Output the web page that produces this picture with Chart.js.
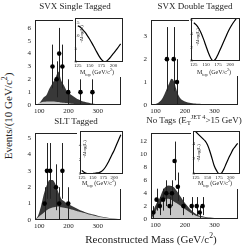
<!DOCTYPE html>
<html>
<head>
<meta charset="utf-8">
<script src="https://cdn.jsdelivr.net/npm/chart.js@4.4.1/dist/chart.umd.min.js"></script>
<style>
  html, body { margin: 0; padding: 0; background: #fff; }
  #page { position: relative; width: 248px; height: 250px; overflow: hidden; font-family: "Liberation Serif", "DejaVu Serif", serif; color: #222; }
  canvas { position: absolute; }
  .lbl { position: absolute; white-space: nowrap; line-height: 1; transform: translate(-50%, -50%); z-index: 5; }
  .rot { transform: translate(-50%, -50%) rotate(-90deg); }
  sub, sup { font-size: 70%; line-height: 0; }
</style>
</head>
<body>
<div id="page"></div>
<script>
// reconstructed mass grid (GeV/c^2) used by all four histograms
const MASS = [85, 95, 105, 115, 125, 135, 145, 155, 160, 165, 170, 175, 185, 195, 205, 215, 225, 235, 245, 255, 265, 275, 285, 300, 320, 340, 360, 380];

// SVX single tagged
const svx1Total = [0, 0.05, 0.3, 0.6, 0.8, 1.3, 1.7, 2.1, 2.4, 2.6, 2.3, 1.9, 1.5, 1.05, 0.85, 0.7, 0.55, 0.42, 0.32, 0.25, 0.19, 0.14, 0.1, 0.06, 0.04, 0.02, 0.01, 0];
const svx1Bkg = [0, 0.1, 0.2, 0.25, 0.28, 0.28, 0.27, 0.25, 0.24, 0.23, 0.22, 0.2, 0.18, 0.15, 0.12, 0.1, 0.08, 0.06, 0.05, 0.04, 0.03, 0.02, 0.02, 0.01, 0.01, 0, 0, 0];
const svx1X = [145, 159, 168, 179, 199, 241, 282];
const svx1Y = [3, 2, 4, 3, 1, 1, 1];
const svx1Err = [1.7, 1.4, 2, 1.7, 1, 1, 1];

// SVX double tagged
const svx2Total = [0, 0.02, 0.06, 0.15, 0.32, 0.6, 0.9, 1.15, 1.1, 0.95, 0.72, 0.52, 0.28, 0.18, 0.13, 0.1, 0.08, 0.06, 0.05, 0.04, 0.03, 0.025, 0.02, 0.015, 0.01, 0.005, 0, 0];
const svx2Bkg = [0, 0.01, 0.02, 0.03, 0.04, 0.04, 0.04, 0.04, 0.04, 0.04, 0.035, 0.035, 0.03, 0.03, 0.025, 0.02, 0.02, 0.015, 0.015, 0.01, 0.01, 0.01, 0.005, 0.005, 0, 0, 0, 0];
const svx2X = [139, 162, 173];
const svx2Y = [2, 2, 1];
const svx2Err = [1.4, 1.4, 1];

// SLT tagged
const sltTotal = [0, 0.25, 0.8, 1.55, 2.1, 2.45, 2.45, 2.2, 1.95, 1.7, 1.5, 1.3, 1.15, 1.0, 0.92, 0.82, 0.73, 0.64, 0.56, 0.49, 0.43, 0.38, 0.33, 0.26, 0.18, 0.12, 0.07, 0.03];
const sltBkg = [0, 0.15, 0.3, 0.45, 0.6, 0.7, 0.76, 0.8, 0.82, 0.82, 0.8, 0.78, 0.75, 0.72, 0.67, 0.62, 0.57, 0.52, 0.47, 0.42, 0.37, 0.32, 0.28, 0.22, 0.16, 0.11, 0.07, 0.03];
const sltX = [118, 126, 137, 157, 168, 179, 199];
const sltY = [1, 3, 3, 2, 1, 3, 1];
const sltErr = [1, 1.7, 1.7, 1.4, 1, 1.7, 1];

// no tags
const noTagTotal = [0, 1.5, 2.5, 3.3, 4.4, 5.0, 5.2, 5.1, 5.0, 4.8, 4.5, 4.2, 3.5, 2.8, 2.2, 1.65, 1.2, 0.85, 0.6, 0.45, 0.35, 0.28, 0.22, 0.16, 0.1, 0.06, 0.03, 0.01];
const noTagBkg = [0, 0.7, 1.6, 2.3, 2.85, 3.1, 3.15, 2.95, 2.8, 2.65, 2.5, 2.35, 2.05, 1.7, 1.4, 1.1, 0.8, 0.55, 0.4, 0.3, 0.24, 0.19, 0.15, 0.11, 0.07, 0.04, 0.02, 0.01];
const noTagX = [93, 104, 115, 126, 137, 148, 156, 165, 176, 195, 223, 240, 250, 260];
const noTagY = [1, 3, 2, 3, 4, 2, 4, 9, 5, 2, 2, 2, 1, 2];
const noTagErr = [1, 1.7, 1.4, 1.7, 2, 1.4, 2, 3, 2.2, 1.4, 1.4, 1.4, 1, 1.4];

// likelihood insets: -dlog(L) vs M_top
const MTOP = [125, 130, 135, 140, 145, 150, 155, 160, 165, 170, 175, 180, 185, 190, 195, 200, 205, 210, 215];
const svx1Like = [14, 13.5, 12.6, 11.5, 10.2, 8.8, 7.2, 5.5, 3.8, 2.2, 0.9, 0.2, 0.3, 1.1, 2.2, 3.3, 4.5, 5.7, 7.0];
const svx2Like = [5.6, 5.3, 4.8, 4.1, 3.2, 2.2, 1.2, 0.4, 0, 0.3, 1.0, 1.8, 2.6, 3.4, 4.2, 4.9, 5.5, 6.0, 6.4];
const sltLike = [0.5, 0.25, 0.1, 0.02, 0, 0.05, 0.1, 0.15, 0.2, 0.35, 0.6, 1.0, 1.5, 2.1, 2.7, 3.3, 4.0, 4.7, 5.4];
const noTagLike = [5.5, 5.2, 4.9, 4.6, 4.3, 3.8, 3.0, 2.0, 1.0, 0.4, 0.05, 0.1, 0.6, 1.3, 2.0, 2.6, 3.2, 3.6, 4.0];

// tick labels
const X_TICKS = [100, 200, 300];
const INSET_X_TICKS = [125, 150, 175, 200];
const svx1YTicks = [0, 1, 2, 3, 4, 5, 6];
const svx2YTicks = [0, 1, 2, 3];
const sltYTicks = [0, 1, 2, 3, 4, 5];
const noTagYTicks = [0, 2, 4, 6, 8, 10, 12];
const svx1LikeTicks = [0, 5, 10, 15];
const svx2LikeTicks = [0, 2, 4, 6];
const sltLikeTicks = [0, 2, 4];
const noTagLikeTicks = [0, 2, 4];

const FONT = "Liberation Serif";
const page = document.getElementById("page");

const errorBars = {
  id: "errorBars",
  beforeDatasetDraw(chart, args) {
    const ds = chart.data.datasets[args.index];
    if (!ds.errors) return;
    const { ctx, scales } = chart;
    ctx.save();
    ctx.strokeStyle = "#222";
    ctx.lineWidth = 1;
    ds.data.forEach((p, i) => {
      const x = Math.round(scales.x.getPixelForValue(p.x)) + 0.5;
      ctx.beginPath();
      ctx.moveTo(x, scales.y.getPixelForValue(Math.max(0, p.y - ds.errors[i])));
      ctx.lineTo(x, scales.y.getPixelForValue(p.y + ds.errors[i]));
      ctx.stroke();
    });
    ctx.restore();
  },
};

const frame = {
  id: "frame",
  beforeDraw(chart, args, opts) {
    if (opts.white) {
      chart.ctx.fillStyle = "#fff";
      chart.ctx.fillRect(0, 0, chart.width, chart.height);
    }
  },
  afterDraw(chart) {
    const a = chart.chartArea;
    const ctx = chart.ctx;
    ctx.save();
    ctx.strokeStyle = "#222";
    ctx.lineWidth = 1;
    ctx.strokeRect(Math.round(a.left) + 0.5, Math.round(a.top) + 0.5, Math.round(a.right - a.left) - 1, Math.round(a.bottom - a.top) - 1);
    ctx.restore();
  },
};

function addCanvas(left, top, w, h, z) {
  const c = document.createElement("canvas");
  c.width = w;
  c.height = h;
  c.style.left = left + "px";
  c.style.top = top + "px";
  c.style.width = w + "px";
  c.style.height = h + "px";
  c.style.zIndex = z;
  page.appendChild(c);
  return c;
}

function addLabel(html, cx, cy, size, rotate) {
  const d = document.createElement("div");
  d.className = "lbl" + (rotate ? " rot" : "");
  d.style.left = cx + "px";
  d.style.top = cy + "px";
  d.style.fontSize = size + "px";
  d.innerHTML = html;
  page.appendChild(d);
}

function fixedTicks(values) {
  return (axis) => { axis.ticks = values.map((v) => ({ value: v })); };
}

const noGrid = { display: false, drawTicks: false };

// box = chart area in page pixels
function mainPanel(box, yMax, yTicks, total, bkg, px, py, err) {
  const padTop = 5, yW = 20, xH = 12, padRight = 2;
  const w = box.r - box.l + yW + padRight;
  const h = box.b - box.t + padTop + xH;
  const c = addCanvas(box.l - yW, box.t - padTop, w, h, 1);
  new Chart(c, {
    type: "line",
    data: {
      datasets: [
        {
          data: MASS.map((m, i) => ({ x: m, y: bkg[i] })),
          fill: "origin", backgroundColor: "#c8c8c8", borderWidth: 0,
          pointRadius: 0, cubicInterpolationMode: "monotone", order: 2,
        },
        {
          data: MASS.map((m, i) => ({ x: m, y: total[i] })),
          fill: "origin", backgroundColor: "#383838", borderWidth: 0,
          pointRadius: 0, cubicInterpolationMode: "monotone", order: 3,
        },
        {
          type: "scatter",
          data: px.map((x, i) => ({ x: x, y: py[i] })),
          errors: err,
          backgroundColor: "#000", borderWidth: 0, pointRadius: 2.3, order: 1,
        },
      ],
    },
    options: {
      responsive: false, animation: false, events: [],
      layout: { padding: { top: padTop, right: padRight, left: 0, bottom: 0 } },
      plugins: { legend: { display: false }, tooltip: { enabled: false }, frame: {} },
      scales: {
        x: {
          type: "linear", min: 85, max: 380,
          afterBuildTicks: fixedTicks(X_TICKS),
          afterFit: (s) => { s.height = xH; },
          grid: noGrid, border: { display: false },
          ticks: { padding: 2, maxRotation: 0, autoSkip: false, color: "#222", font: { family: FONT, size: 7 } },
        },
        y: {
          min: 0, max: yMax,
          afterBuildTicks: fixedTicks(yTicks),
          afterFit: (s) => { s.width = yW; },
          grid: noGrid, border: { display: false },
          ticks: { padding: 4, autoSkip: false, color: "#222", font: { family: FONT, size: 7 } },
        },
      },
    },
    plugins: [errorBars, frame],
  });
}

function insetPanel(box, yMax, yTicks, like) {
  const xH = 15;
  const c = addCanvas(box.l - 1, box.t - 1, box.r - box.l + 2, box.b - box.t + 1 + xH, 3);
  new Chart(c, {
    type: "line",
    data: {
      datasets: [{
        data: MTOP.map((m, i) => ({ x: m, y: like[i] })),
        borderColor: "#000", borderWidth: 1.2, pointRadius: 0,
        cubicInterpolationMode: "monotone", fill: false,
      }],
    },
    options: {
      responsive: false, animation: false, events: [],
      layout: { padding: { top: 1, right: 1, left: 1, bottom: 0 } },
      plugins: { legend: { display: false }, tooltip: { enabled: false }, frame: { white: true } },
      scales: {
        x: {
          type: "linear", min: 120, max: 220,
          afterBuildTicks: fixedTicks(INSET_X_TICKS),
          afterFit: (s) => { s.height = xH; },
          grid: noGrid, border: { display: false },
          ticks: { padding: 1, maxRotation: 0, minRotation: 0, autoSkip: false, color: "#222", font: { family: FONT, size: 5 } },
        },
        y: {
          min: 0, max: yMax,
          afterBuildTicks: fixedTicks(yTicks),
          afterFit: (s) => { s.width = 0; },
          grid: noGrid, border: { display: false },
          ticks: { mirror: true, padding: -1, autoSkip: false, color: "#222", font: { family: FONT, size: 5 } },
        },
      },
    },
    plugins: [frame],
  });
}

mainPanel({ l: 35, r: 123, t: 17, b: 105 }, 6.6, svx1YTicks, svx1Total, svx1Bkg, svx1X, svx1Y, svx1Err);
mainPanel({ l: 151, r: 240, t: 17, b: 105 }, 3.7, svx2YTicks, svx2Total, svx2Bkg, svx2X, svx2Y, svx2Err);
mainPanel({ l: 35, r: 123, t: 130, b: 220 }, 5.3, sltYTicks, sltTotal, sltBkg, sltX, sltY, sltErr);
mainPanel({ l: 151, r: 240, t: 130, b: 219 }, 13.3, noTagYTicks, noTagTotal, noTagBkg, noTagX, noTagY, noTagErr);

insetPanel({ l: 74, r: 123, t: 17, b: 62 }, 17, svx1LikeTicks, svx1Like);
insetPanel({ l: 190, r: 240, t: 17, b: 61 }, 6.3, svx2LikeTicks, svx2Like);
insetPanel({ l: 78, r: 123, t: 130, b: 174 }, 5.9, sltLikeTicks, sltLike);
insetPanel({ l: 192, r: 240, t: 130, b: 174 }, 5.6, noTagLikeTicks, noTagLike);

// inset axis titles
const likeTitle = "-&Delta;log(L)";
const mtopTitle = "M<sub>top</sub> (GeV/c<sup>2</sup>)";
addLabel(likeTitle, 81, 34, 5, true);
addLabel(likeTitle, 197, 37, 5, true);
addLabel(likeTitle, 84, 149, 5, true);
addLabel(likeTitle, 198, 153, 5, true);
addLabel(mtopTitle, 97, 72, 6);
addLabel(mtopTitle, 214, 72, 6);
addLabel(mtopTitle, 99, 183, 6);
addLabel(mtopTitle, 215, 183, 6);

// panel titles and shared axis titles
addLabel("SVX Single Tagged", 75, 6, 9);
addLabel("SVX Double Tagged", 195, 6, 9);
addLabel("SLT Tagged", 76, 121, 9);
addLabel("No Tags (E<sub>T</sub><sup>JET 4</sup>&gt;15 GeV)", 194, 120, 9);
addLabel("Reconstructed Mass (GeV/c<sup>2</sup>)", 151, 239, 11);
addLabel("Events/(10 GeV/c<sup>2</sup>)", 8, 116, 11, true);
</script>
</body>
</html>
